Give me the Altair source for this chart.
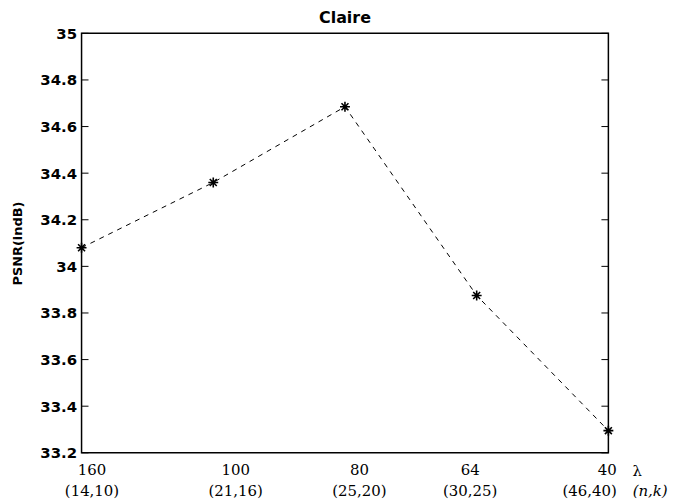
import altair as alt
import pandas as pd

# ---- data ----
lambdas = ["160", "100", "80", "64", "40"]
nk_labels = ["(14,10)", "(21,16)", "(25,20)", "(30,25)", "(46,40)"]
psnr = [34.08, 34.36, 34.685, 33.875, 33.295]
y_ticks = [33.2, 33.4, 33.6, 33.8, 34.0, 34.2, 34.4, 34.6, 34.8, 35.0]

W, H = 530, 422

df = pd.DataFrame({"idx": list(range(len(lambdas))), "lam": lambdas, "nk": nk_labels, "psnr": psnr})
ticks_df = pd.DataFrame({"v": y_ticks})
side_df = pd.DataFrame({"t": ["λ", "(n,k)"], "row": [0, 1]})

label_expr = "[" + ",".join(f"['{a}','{b}']" for a, b in zip(lambdas, nk_labels)) + "][datum.value]"

xscale = alt.Scale(domain=[0, len(lambdas) - 1], nice=False, zero=False)
yscale = alt.Scale(domain=[33.2, 35.0], nice=False, zero=False)

x_enc = alt.X(
    "idx:Q",
    scale=xscale,
    axis=alt.Axis(
        values=list(range(len(lambdas))),
        labelExpr=label_expr,
        title=None,
        domain=False,
        ticks=False,
        grid=False,
        labelFont="DejaVu Serif",
        labelFontSize=15,
        labelColor="black",
        labelPadding=10,
        labelLineHeight=21,
        labelBaseline="top",
        labelFlush=False,
        labelOverlap=False,
        labelAlign={"condition": {"test": "datum.value == 4", "value": "right"}, "value": "center"},
        labelOffset={
            "condition": [
                {"test": "datum.value == 0", "value": 10},
                {"test": "datum.value == 1", "value": 22},
                {"test": "datum.value == 2", "value": 14},
                {"test": "datum.value == 3", "value": -7},
                {"test": "datum.value == 4", "value": 8},
            ],
            "value": 0,
        },
    ),
)
y_enc = alt.Y(
    "psnr:Q",
    scale=yscale,
    axis=alt.Axis(
        values=y_ticks,
        format="~g",
        title="PSNR(indB)",
        titleFont="DejaVu Sans",
        titleFontWeight="bold",
        titleFontSize=13,
        titleColor="black",
        titlePadding=15,
        domain=False,
        ticks=False,
        grid=False,
        labelFont="DejaVu Sans",
        labelFontWeight="bold",
        labelFontSize=15,
        labelColor="black",
        labelPadding=5,
        labelFlush=False,
    ),
)

line = alt.Chart(df).mark_line(color="black", strokeWidth=1, strokeDash=[5, 5]).encode(x=x_enc, y=y_enc)

star_path = "M-1,0L1,0M0,-1L0,1M-0.7,-0.7L0.7,0.7M-0.7,0.7L0.7,-0.7"
stars = alt.Chart(df).mark_point(
    shape=star_path, filled=False, color="black", strokeWidth=1.6, size=100, opacity=1
).encode(x=alt.X("idx:Q", scale=xscale), y=alt.Y("psnr:Q", scale=yscale))

left_ticks = alt.Chart(ticks_df).mark_rule(color="black", strokeWidth=1).encode(
    y=alt.Y("v:Q", scale=yscale), x=alt.value(0), x2=alt.value(7)
)
right_ticks = alt.Chart(ticks_df).mark_rule(color="black", strokeWidth=1).encode(
    y=alt.Y("v:Q", scale=yscale), x=alt.value(W - 7), x2=alt.value(W)
)

side_lambda = alt.Chart(side_df[side_df.row == 0]).mark_text(
    font="DejaVu Serif", fontSize=15, color="black", align="center", baseline="middle"
).encode(text="t:N", x=alt.value(W + 29), y=alt.value(H + 18))
side_nk = alt.Chart(side_df[side_df.row == 1]).mark_text(
    font="DejaVu Serif", fontSize=15, fontStyle="italic", color="black", align="center", baseline="middle"
).encode(text="t:N", x=alt.value(W + 42), y=alt.value(H + 38))

chart = (
    alt.layer(left_ticks, right_ticks, line, stars, side_lambda, side_nk)
    .properties(
        width=W,
        height=H,
        title=alt.Title("Claire", font="DejaVu Sans", fontWeight="bold", fontSize=16, color="black", offset=0),
        autosize=alt.AutoSizeParams(type="none"),
        padding={"left": 74, "top": 24, "right": 64, "bottom": 47},
    )
    .configure(background="white")
    .configure_view(stroke="black", strokeWidth=1.5)
)

chart.save("out.html", embed_options={"renderer": "svg", "actions": False})
